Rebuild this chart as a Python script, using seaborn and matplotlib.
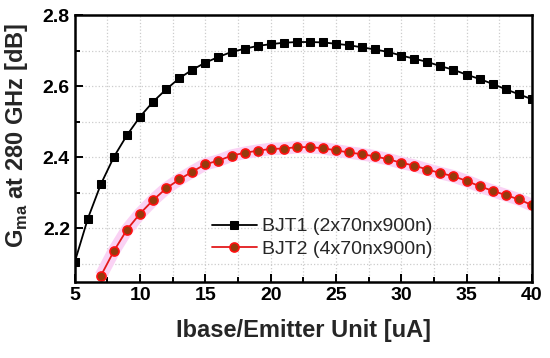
"""Gma at 280 GHz versus base current per emitter unit, two BJT layouts"""
import matplotlib
matplotlib.use("Agg")
import matplotlib.pyplot as plt
from matplotlib.ticker import MultipleLocator
import pandas as pd
import seaborn as sns


IBASE_1 = list(range(5, 41))
GMA_1 = [2.105, 2.227, 2.324, 2.401, 2.462, 2.514, 2.556, 2.591, 2.622, 2.646,
         2.666, 2.682, 2.696, 2.705, 2.713, 2.718, 2.722, 2.724, 2.724, 2.723,
         2.719, 2.715, 2.709, 2.703, 2.696, 2.686, 2.677, 2.668, 2.656, 2.646,
         2.632, 2.620, 2.606, 2.591, 2.577, 2.563]

IBASE_2 = list(range(7, 41))
GMA_2 = [2.066, 2.136, 2.196, 2.241, 2.279, 2.312, 2.337, 2.359, 2.380, 2.390,
         2.404, 2.412, 2.418, 2.423, 2.424, 2.428, 2.428, 2.425, 2.419, 2.413,
         2.408, 2.402, 2.394, 2.384, 2.376, 2.365, 2.355, 2.346, 2.333, 2.318,
         2.305, 2.293, 2.281, 2.265]

LABELS = ["BJT1 (2x70nx900n)", "BJT2 (4x70nx900n)"]


def main():
    sns.set_style("ticks", {"axes.edgecolor": "black",
                            "xtick.color": "black",
                            "ytick.color": "black"})
    plt.rcParams["font.family"] = ["Liberation Sans", "DejaVu Sans"]
    plt.rcParams["mathtext.fontset"] = "custom"
    plt.rcParams["mathtext.bf"] = "Liberation Sans:bold"
    plt.rcParams["mathtext.rm"] = "Liberation Sans"

    df1 = pd.DataFrame({"x": IBASE_1, "y": GMA_1})
    df2 = pd.DataFrame({"x": IBASE_2, "y": GMA_2})

    fig, ax = plt.subplots(figsize=(5.5, 3.58), dpi=100)
    fig.subplots_adjust(left=0.136, right=0.967, top=0.958, bottom=0.212)

    # pink glow behind the second series
    ax.plot(df2["x"], df2["y"], color="#fad2f4", lw=9,
            solid_capstyle="butt", zorder=2)
    sns.lineplot(data=df1, x="x", y="y", ax=ax, color="black", lw=1.3,
                 marker="s", markersize=5.5, markeredgecolor="black",
                 label=LABELS[0], zorder=4)
    sns.lineplot(data=df2, x="x", y="y", ax=ax, color="#e31a1c", lw=1.3,
                 marker="o", markersize=6.5, markerfacecolor="#953a0c",
                 markeredgecolor="#ff1010", markeredgewidth=1.2,
                 label=LABELS[1], zorder=3)

    ax.set_xlim(5, 40)
    ax.set_ylim(2.048, 2.8)
    ax.xaxis.set_major_locator(MultipleLocator(5))
    ax.xaxis.set_minor_locator(MultipleLocator(2.5))
    ax.yaxis.set_major_locator(MultipleLocator(0.2))
    ax.yaxis.set_minor_locator(MultipleLocator(0.1))
    ax.set_yticks([2.2, 2.4, 2.6, 2.8])
    ax.grid(True, which="both", color="#cccccc", linestyle=":", lw=0.9)
    ax.set_axisbelow(True)

    ax.tick_params(which="both", direction="in", top=False, right=False,
                   labelsize=14, width=1.4, color="black")
    ax.tick_params(which="major", length=6)
    ax.tick_params(which="minor", length=3.5)
    for lab in ax.get_xticklabels() + ax.get_yticklabels():
        lab.set_fontweight("bold")
    for sp in ax.spines.values():
        sp.set_visible(True)
        sp.set_linewidth(1.8)
        sp.set_color("black")
        sp.set_zorder(10)

    ax.set_xlabel("Ibase/Emitter Unit [uA]", fontsize=17, fontweight="bold",
                  labelpad=11)
    ax.set_ylabel(r"G$_{\mathbf{ma}}$ at 280 GHz [dB]", fontsize=17,
                  fontweight="bold")
    ax.yaxis.set_label_coords(-0.097, 0.55)

    ax.legend(loc="lower left", bbox_to_anchor=(0.27, 0.04), frameon=False,
              fontsize=14, handlelength=2.3, handletextpad=0.3,
              labelspacing=0.25, borderpad=0.2)

    fig.savefig("out.png", dpi=100)


if __name__ == "__main__":
    main()
